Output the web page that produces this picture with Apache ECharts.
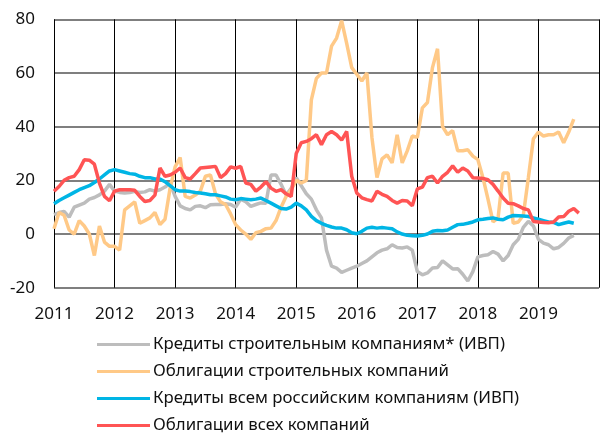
<!DOCTYPE html>
<html>
<head>
<meta charset="utf-8">
<script src="https://cdn.jsdelivr.net/npm/echarts@6/dist/echarts.min.js"></script>
<style>
  html, body { margin: 0; padding: 0; background: #fff; }
  #chart { width: 602px; height: 435px; }
</style>
</head>
<body>
<div id="chart"></div>
<script>
// monthly values, first point = January 2011
var startYear = 2011;
var seriesNames = [
  "Кредиты строительным компаниям* (ИВП)",
  "Облигации строительных компаний",
  "Кредиты всем российским компаниям (ИВП)",
  "Облигации всех компаний"
];
var yTicks = [-20, 0, 20, 40, 60, 80];

var loansConstruction = [
  7.2, 8, 8.4, 6.3, 10, 10.8, 11.5, 13, 13.6, 14.6, 16, 18.5,
  16, 15.5, 15.3, 15.5, 15.9, 15.5, 15.7, 16.5, 16, 16.5, 17.5, 19,
  14, 10.5, 9.5, 9, 10.3, 10.5, 9.8, 10.9, 11, 11, 11.3, 11,
  10, 13, 12, 10.3, 11, 11.6, 11.5, 22, 22, 18.5, 14.5, 17,
  21, 18, 15, 13, 9, 6, -6, -12, -12.7, -14.3, -13.5, -12.7,
  -12, -11, -10, -8.5, -7, -6, -5.5, -4, -5, -5.2, -4.8, -6,
  -14, -15.2, -14.5, -12.7, -12.5, -10, -11.5, -13, -12.9, -15, -17.5, -14,
  -8.5, -8, -7.7, -6.5, -7.5, -10, -8, -4, -2, 2.5, 4.7, 3,
  -2, -3.4, -4, -5.5, -5, -3.5, -1.5, -0.5
];
var bondsConstruction = [
  2, 8, 7, 1.5, 0, 5, 3, 0, -8, 3, -3, -4.6,
  -4.6, -6, 9, 10.5, 12, 4, 5, 6, 8, 3.5, 5.5, 17,
  25, 28.5, 14, 13.4, 14.5, 16, 21.5, 22, 15, 12, 11, 7.5,
  3.5, 1.5, 0, -2, 0.5, 1, 2, 2.2, 5, 10, 14, 16.5,
  20, 19, 20, 50, 58, 60, 60, 70, 73, 79.5, 71, 62,
  59.5, 57, 60, 36, 21, 28, 29.5, 26.5, 37, 26.5, 31, 36.5,
  36, 47, 49, 62, 69, 40, 37, 38.5, 31, 31, 31.4, 29,
  27.7, 21, 13, 4.5, 6, 22.7, 22.7, 4, 4.5, 7, 21, 35.5,
  38, 36.5, 37, 37, 38, 34, 38, 42.8
];
var loansAll = [
  11.3, 12.5, 13.5, 14.5, 15.5, 16.5, 17.3, 18, 19.2, 20.5, 22, 23.5,
  24, 23.5, 23, 22.5, 22.3, 21.5, 21, 21, 20.5, 20.5, 19.5, 18,
  16.5, 16, 16, 15.8, 15.5, 15.3, 15, 14.6, 14.6, 14.2, 13.8, 13,
  12.8, 13.2, 13, 12.8, 13, 13.4, 12.5, 11.5, 10.5, 9.5, 9.3, 10,
  11.5, 10.5, 9, 6.6, 5, 4, 3.2, 2.6, 2.2, 2.2, 1.6, 0.5,
  0.1, 1, 2.2, 2.5, 2.2, 2.4, 2.2, 2, 0.8, 0, -0.5, -0.6,
  -0.7, -0.5, 0, 1, 1.3, 1.2, 1.5, 2.5, 3.5, 3.6, 4, 4.5,
  5.3, 5.5, 5.8, 6, 5.5, 5.3, 6.3, 6.9, 6.8, 6.7, 6.5, 6,
  5.5, 5, 4.5, 4.3, 3.5, 4, 4.5, 4
];
var bondsAll = [
  15.9, 17.7, 20, 21, 21.5, 24, 27.7, 27.5, 26, 19, 14, 12.4,
  16, 16.5, 16.5, 16.5, 16.3, 14, 12.1, 12.5, 14.5, 24.6, 21.5, 22,
  23, 24.6, 21, 20.5, 22.5, 24.6, 24.8, 25, 25.2, 21, 22.5, 25,
  24.5, 25.2, 19, 18.5, 16, 17.5, 19.5, 17.1, 15.9, 16.5, 15, 14,
  30, 34, 34.5, 35.5, 37, 33.3, 37, 38.2, 37, 35, 38.2, 21.5,
  15.3, 13.5, 12.8, 12.3, 15.9, 14.8, 14, 12.5, 11.5, 12.5, 12.3, 10.5,
  16.8, 17.5, 21, 21.5, 19, 21.5, 23, 25.4, 23, 24.6, 23.5, 21,
  20.9, 20.7, 20.2, 18.5, 16, 13.4, 11.5, 11.3, 10.5, 9.5, 9, 4.7,
  4.5, 4.3, 4.2, 4.5, 6.3, 6.5, 8.5, 9.5, 7.8
];

var colors = ["#BDBDBD", "#FFC987", "#00B5E5", "#FF5454"];

function toPoints(arr) {
  return arr.map(function (v, i) { return [startYear + i / 12, v]; });
}

var chart = echarts.init(document.getElementById("chart"));
var fontFamily = "Noto Sans";

var option = {
  animation: false,
  color: colors,
  grid: { left: 54, right: 0, top: 19.3, bottom: 147.3 },
  legend: {
    orient: "vertical",
    left: 97,
    top: 336,
    padding: 0,
    icon: "rect",
    itemWidth: 53,
    itemHeight: 3,
    itemGap: 10,
    textStyle: { fontFamily: fontFamily, fontSize: 16.8, color: "#111", lineHeight: 17, padding: [0, 0, 0, -2] },
    data: seriesNames
  },
  xAxis: {
    type: "value",
    min: 2011,
    max: 2020,
    interval: 1,
    axisLine: { show: false },
    axisTick: { show: false },
    axisLabel: {
      margin: 18,
      fontFamily: fontFamily,
      fontSize: 17,
      color: "#111",
      formatter: function (v) { return v < 2020 ? String(v) : ""; }
    },
    splitLine: { show: true, lineStyle: { color: "#000", width: 1 } }
  },
  yAxis: {
    type: "value",
    min: yTicks[0],
    max: yTicks[yTicks.length - 1],
    interval: 20,
    axisLine: { show: false },
    axisTick: { show: false },
    axisLabel: { margin: 19, fontFamily: fontFamily, fontSize: 17, color: "#111" },
    splitLine: { show: true, lineStyle: { color: "#555", width: 1.5 } }
  },
  series: [
    { name: seriesNames[0], type: "line", symbol: "none", data: toPoints(loansConstruction), lineStyle: { width: 3.5 } },
    { name: seriesNames[1], type: "line", symbol: "none", data: toPoints(bondsConstruction), lineStyle: { width: 3.5 } },
    { name: seriesNames[2], type: "line", symbol: "none", data: toPoints(loansAll), lineStyle: { width: 3.5 } },
    { name: seriesNames[3], type: "line", symbol: "none", data: toPoints(bondsAll), lineStyle: { width: 3.5 } }
  ]
};
chart.setOption(option);
</script>
</body>
</html>
